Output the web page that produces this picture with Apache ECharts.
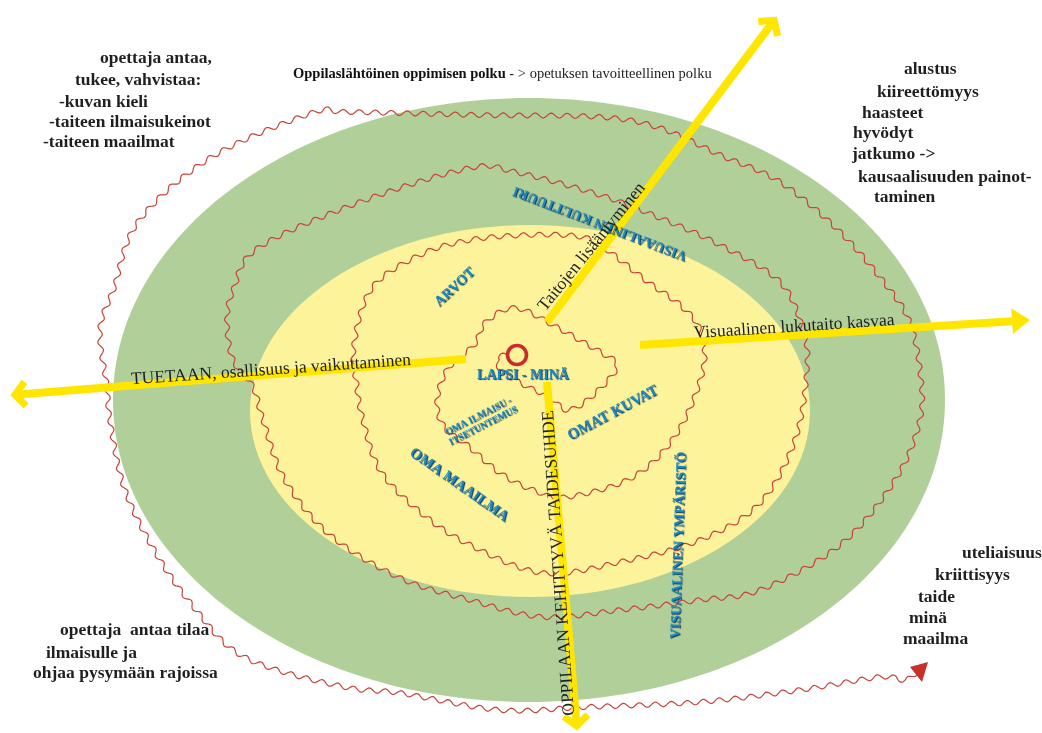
<!DOCTYPE html>
<html><head><meta charset="utf-8">
<script src="https://cdn.jsdelivr.net/npm/echarts@6/dist/echarts.min.js"></script>
<style>html,body{margin:0;padding:0;background:#fff}#c{width:1042px;height:733px}</style>
</head><body><div id="c"></div>
<script>
// ---- data (diagram coordinates, x 0..1042, y 0..733 top-down) ----
const ellipseNames = ['green', 'yellow'];
const ellipseGeom = [[529, 400, 416, 302], [530, 411, 280, 186]];

const spiralPath = [
  [507,355],[497,358],[503,372],[530,388],[550,397],[567,410],[590,398],[617,367],[600,352],[588,345],
  [558,328],[516,308],[486,322],[474,345],[447,370],[437,403],[445,428],[467,445],[500,473],[533,490],
  [567,497],[633,477],[677,433],[703,370],[700,330],[680,305],[648,282],[600,245],[575,236],[528,235],
  [470,240],[420,255],[372,288],[354,345],[357,387],[363,420],[380,470],[420,512],[470,545],[543,573],
  [620,562],[700,540],[760,503],[795,440],[807,370],[803,330],[780,282],[720,245],[660,218],[600,195],
  [515,172],[470,168],[360,202],[258,248],[234,288],[227,320],[233,360],[253,387],[263,420],[285,480],
  [330,535],[400,578],[470,600],[543,617],[620,610],[700,600],[760,590],[840,545],[895,480],[920,420],
  [920,370],[910,323],[890,290],[840,232],[780,182],[720,155],[660,128],[600,117],[480,115],[348,112],
  [312,113],[210,158],[138,222],[114,288],[100,330],[107,387],[110,420],[125,490],[160,560],[200,615],
  [233,650],[277,670],[350,688],[400,693],[500,710],[587,707],[700,702],[800,690],[880,677],[905,680],[918,671]
];
const spiralEndHead = [[928,662],[910,667],[922,682]];
const centreCircle = [517, 355];

const arrowLines = [
  [547,322,776,18,'chevron'],
  [640,345,1030,320,'triangle'],
  [466,359,12,395,'chevron'],
  [547,382,577,729,'chevron']
];

const arrowTexts = ['Taitojen lisääntyminen','Visuaalinen lukutaito kasvaa','TUETAAN, osallisuus ja vaikuttaminen','OPPILAAN KEHITTYVÄ TAIDESUHDE'];
const arrowTextAt = [[592,247,51],[794,327,3.7],[271,370,4],[559,563,94]];

const blueTexts = ['VISUAALINEN KULTTUURI','ARVOT','LAPSI - MINÄ','OMA ILMAISU -\nITSETUNTEMUS','OMAT KUVAT','OMA MAAILMA','VISUAALINEN YMPÄRISTÖ'];
const blueTextAt = [[600,223,159],[455,287,43],[523,375,0],[481,421,27],[613,413,28],[459,485,-35],[679,545,88]];
const blueTextSize = [14,14,14,9.5,15,15,14];

const topLeftLines = ['opettaja antaa,','tukee, vahvistaa:','-kuvan kieli','-taiteen ilmaisukeinot','-taiteen maailmat'];
const topLeftAt = [[100,58],[75,80],[59,102],[49,122],[43,142]];
const topRightLines = ['alustus','kiireettömyys','haasteet','hyvödyt','jatkumo ->','kausaalisuuden painot-','taminen'];
const topRightAt = [[904,69],[877,92],[862,113],[853,133],[852,154],[858,177],[874,197]];
const bottomRightLines = ['uteliaisuus','kriittisyys','taide','minä','maailma'];
const bottomRightAt = [[962,553],[935,575],[918,597],[909,618],[903,639]];
const bottomLeftLines = ['opettaja  antaa tilaa','ilmaisulle ja','ohjaa pysymään rajoissa'];
const bottomLeftAt = [[60,630],[46,653],[33,673]];
const titleBold = 'Oppilaslähtöinen oppimisen polku';
const titleRest = ' - > opetuksen tavoitteellinen polku';
const titleAt = [293, 74];

// ---- rendering ----
const SERIF = '"Liberation Serif", "DejaVu Serif", serif';
const ellipseColors = ['#b1cf98', '#fdf39a'];
const YELLOW = '#ffe600';
const RED = '#c6443a';

function smoothWave(pts, amp, wl) {
  const dense = [];
  for (let i = 0; i < pts.length - 1; i++) {
    const p0 = pts[Math.max(i - 1, 0)], p1 = pts[i], p2 = pts[i + 1], p3 = pts[Math.min(i + 2, pts.length - 1)];
    const n = Math.max(2, Math.ceil(Math.hypot(p2[0] - p1[0], p2[1] - p1[1])));
    for (let k = 0; k < n; k++) {
      const t = k / n, t2 = t * t, t3 = t2 * t;
      const f = j => 0.5 * ((2 * p1[j]) + (-p0[j] + p2[j]) * t + (2 * p0[j] - 5 * p1[j] + 4 * p2[j] - p3[j]) * t2 + (-p0[j] + 3 * p1[j] - 3 * p2[j] + p3[j]) * t3);
      dense.push([f(0), f(1)]);
    }
  }
  dense.push(pts[pts.length - 1]);
  const out = [];
  let s = 0;
  for (let i = 0; i < dense.length; i++) {
    if (i > 0) s += Math.hypot(dense[i][0] - dense[i - 1][0], dense[i][1] - dense[i - 1][1]);
    const a = dense[Math.max(i - 3, 0)], b = dense[Math.min(i + 3, dense.length - 1)];
    const dx = b[0] - a[0], dy = b[1] - a[1], L = Math.hypot(dx, dy) || 1;
    const w = amp * Math.sin(2 * Math.PI * s / wl);
    out.push([dense[i][0] - dy / L * w, dense[i][1] + dx / L * w]);
  }
  return out;
}

function textSeries(lines, at, opts) {
  return {
    type: 'custom', coordinateSystem: 'cartesian2d', silent: true,
    data: at.map((p, i) => [p[0], p[1], p[2] || 0, i]),
    encode: { x: 0, y: 1 },
    renderItem: (params, api) => {
      const i = params.dataIndex;
      const c = api.coord([at[i][0], at[i][1]]);
      return {
        type: 'text', x: c[0], y: c[1], rotation: (at[i][2] || 0) * Math.PI / 180,
        style: Object.assign({ text: lines[i], align: 'left', verticalAlign: 'middle' },
          typeof opts === 'function' ? opts(i) : opts)
      };
    }
  };
}

const chart = echarts.init(document.getElementById('c'), null, { renderer: 'canvas' });
chart.setOption({
  animation: false,
  backgroundColor: '#ffffff',
  grid: { left: 0, right: 0, top: 0, bottom: 0 },
  xAxis: { type: 'value', min: 0, max: 1042, show: false },
  yAxis: { type: 'value', min: 0, max: 733, inverse: true, show: false },
  series: [
    {
      type: 'custom', name: 'ellipses', silent: true,
      data: ellipseGeom.map((g, i) => [g[0], g[1], g[2], g[3], i]),
      encode: { x: 0, y: 1 },
      renderItem: (params, api) => {
        const g = ellipseGeom[params.dataIndex];
        const c = api.coord([g[0], g[1]]);
        const e = api.coord([g[0] + g[2], g[1] + g[3]]);
        return { type: 'ellipse', shape: { cx: c[0], cy: c[1], rx: Math.abs(e[0] - c[0]), ry: Math.abs(e[1] - c[1]) },
          style: { fill: ellipseColors[params.dataIndex] } };
      }
    },
    {
      type: 'custom', name: 'spiral', silent: true,
      data: spiralPath, encode: { x: 0, y: 1 },
      renderItem: (params, api) => {
        if (params.dataIndex !== 0) return null;
        const pts = spiralPath.map(p => api.coord(p));
        const head = spiralEndHead.map(p => api.coord(p));
        const circ = api.coord(centreCircle);
        return { type: 'group', children: [
          { type: 'polyline', shape: { points: smoothWave(pts, 2.4, 16) }, style: { stroke: RED, lineWidth: 1.2, fill: null, lineJoin: 'round' } },
          { type: 'polygon', shape: { points: head }, style: { fill: '#c8302a' } },
          { type: 'circle', shape: { cx: circ[0], cy: circ[1], r: 9.5 }, style: { stroke: '#cc2b2b', lineWidth: 3.6, fill: null } }
        ] };
      }
    },
    {
      type: 'custom', name: 'arrows', silent: true,
      data: arrowLines.map(a => [a[0], a[1], a[2], a[3]]), encode: { x: 0, y: 1 },
      renderItem: (params, api) => {
        const a = arrowLines[params.dataIndex];
        const s = api.coord([a[0], a[1]]), t = api.coord([a[2], a[3]]);
        const dx = t[0] - s[0], dy = t[1] - s[1], L = Math.hypot(dx, dy), ux = dx / L, uy = dy / L;
        const children = [];
        if (a[4] === 'triangle') {
          const bx = t[0] - ux * 18, by = t[1] - uy * 18;
          children.push({ type: 'line', shape: { x1: s[0], y1: s[1], x2: bx, y2: by }, style: { stroke: YELLOW, lineWidth: 8 } });
          children.push({ type: 'polygon', shape: { points: [[t[0], t[1]], [bx - uy * 13, by + ux * 13], [bx + uy * 13, by - ux * 13]] }, style: { fill: YELLOW } });
        } else {
          const ang = 42 * Math.PI / 180, len = 18;
          const arm = sgn => [t[0] - len * (ux * Math.cos(ang) - sgn * uy * Math.sin(ang)), t[1] - len * (uy * Math.cos(ang) + sgn * ux * Math.sin(ang))];
          children.push({ type: 'line', shape: { x1: s[0], y1: s[1], x2: t[0] - ux * 3, y2: t[1] - uy * 3 }, style: { stroke: YELLOW, lineWidth: 8 } });
          children.push({ type: 'polyline', shape: { points: [arm(1), [t[0] - ux * 3, t[1] - uy * 3], arm(-1)] }, style: { stroke: YELLOW, lineWidth: 7, lineJoin: 'miter', fill: null } });
        }
        return { type: 'group', children };
      }
    },
    textSeries(blueTexts, blueTextAt, i => ({
      align: 'center', font: 'bold ' + blueTextSize[i] + 'px ' + SERIF, fill: '#1d87c3',
      lineHeight: blueTextSize[i] + 1,
      textShadowColor: 'rgba(5,45,75,0.95)', textShadowOffsetX: 1, textShadowOffsetY: 1, textShadowBlur: 1
    })),
    textSeries(arrowTexts, arrowTextAt, { align: 'center', font: '17.5px ' + SERIF, fill: '#1f1f1f' }),
    textSeries(topLeftLines, topLeftAt, { font: 'bold 17.5px ' + SERIF, fill: '#1f1f1f' }),
    textSeries(topRightLines, topRightAt, { font: 'bold 17.5px ' + SERIF, fill: '#1f1f1f' }),
    textSeries(bottomRightLines, bottomRightAt, { font: 'bold 17.5px ' + SERIF, fill: '#1f1f1f' }),
    textSeries(bottomLeftLines, bottomLeftAt, { font: 'bold 17.5px ' + SERIF, fill: '#1f1f1f' }),
    textSeries(['{b|' + titleBold + '}' + titleRest], [titleAt], {
      font: '14.5px ' + SERIF, fill: '#222',
      rich: { b: { fontWeight: 'bold', fontSize: 14.5, fontFamily: SERIF, fill: '#111' } }
    })
  ]
});
</script></body></html>
